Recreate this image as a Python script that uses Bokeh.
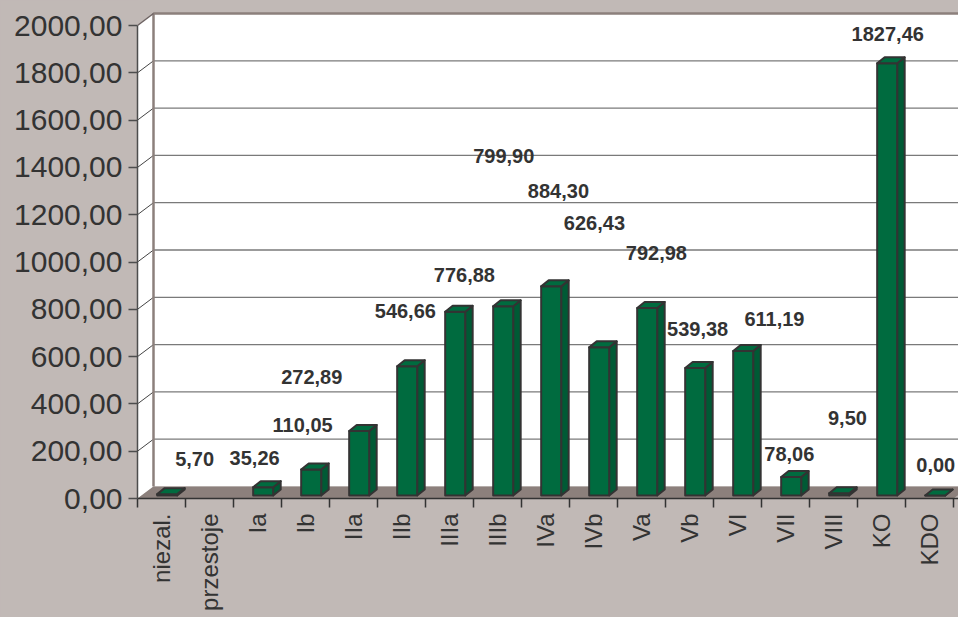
import math
import numpy as np
from bokeh.plotting import figure
from bokeh.models import Range1d, FixedTicker
from bokeh.embed import file_html
from bokeh.resources import INLINE
from bokeh.core.properties import value

# ---------------- data ----------------
CATEGORIES = ["niezal.", "przestoje", "Ia", "Ib", "IIa", "IIb", "IIIa", "IIIb",
              "IVa", "IVb", "Va", "Vb", "VI", "VII", "VIII", "KO", "KDO"]
VALUES = [5.70, None, 35.26, 110.05, 272.89, 546.66, 776.88, 799.90,
          884.30, 626.43, 792.98, 539.38, 611.19, 78.06, 9.50, 1827.46, 0.00]
Y_TICKS = [0, 200, 400, 600, 800, 1000, 1200, 1400, 1600, 1800, 2000]
Y_TICK_LABELS = ["0,00", "200,00", "400,00", "600,00", "800,00", "1000,00",
                 "1200,00", "1400,00", "1600,00", "1800,00", "2000,00"]
# where the value labels sit in the original (they are displaced from bars)
LABEL_X = [0.69, 1.94, 2.94, 3.13, 5.08, 6.31, 7.13, 8.27,
           9.02, 10.31, 11.17, 12.77, 13.08, 14.29, 15.13, 16.13]
LABEL_Y = [169, 173, 309, 512, 791, 943, 1450, 1302,
           1167, 1040, 715, 757, 190, 342, 1966, 140]

# ---------------- geometry / style ----------------
W, H = 958, 617
LEFT, BOTTOM = 137, 119
PX_PER_CAT = 48.0
PX_PER_VAL = 0.2365
FRAME_W = W - LEFT
FRAME_H = H - BOTTOM
DX = 16 / PX_PER_CAT          # wall depth (x)
DY = 12 / PX_PER_VAL          # wall depth (y)
BAR_W = 20 / PX_PER_CAT
BAR_L = -0.09                 # bar front-face left relative to category centre
BAR_BASE = 3 / PX_PER_VAL
BDX = 7.5 / PX_PER_CAT        # bar depth
BDY = 6 / PX_PER_VAL
XR = 18.5

BG = "#c1b9b6"
FLOOR = "#8c807c"
GREEN = "#006b3f"
GREEN_SIDE = "#005a35"
DARK = "#333333"

p = figure(width=W, height=H, output_backend="svg", toolbar_location=None,
           x_range=Range1d(-0.5, -0.5 + FRAME_W / PX_PER_CAT),
           y_range=Range1d(0, FRAME_H / PX_PER_VAL),
           min_border_left=LEFT, min_border_right=0, min_border_top=0,
           min_border_bottom=BOTTOM)
p.background_fill_color = BG
p.border_fill_color = BG
p.outline_line_color = None
p.xgrid.visible = False
p.ygrid.visible = False

n = len(CATEGORIES)
x0 = -0.5
xend = n - 0.5

# side wall and back wall
p.patch([x0, x0, x0 + DX, x0 + DX], [0, 2000, 2000 + DY, DY],
        fill_color="white", line_color=None)
p.quad(left=[x0 + DX], right=[XR], bottom=[DY], top=[2000 + DY],
       fill_color="white", line_color=None)

# gridlines
gl_x, gl_y, sl_x, sl_y = [], [], [], []
for t in Y_TICKS[1:-1]:
    gl_x.append([x0 + DX, XR]); gl_y.append([t + DY, t + DY])
    sl_x.append([x0, x0 + DX]); sl_y.append([t, t + DY])
p.multi_line(gl_x, gl_y, line_color="#7a7a7a", line_width=1.3)
p.multi_line(sl_x, sl_y, line_color="#444444", line_width=1)

# wall borders
p.line([x0 + DX, x0 + DX, XR], [DY, 2000 + DY, 2000 + DY], line_color=FLOOR, line_width=2.5)
p.line([x0, x0 + DX], [2000, 2000 + DY], line_color="#6e6464", line_width=1.5)

# floor
p.patch([x0, xend, xend + DX, x0 + DX], [0, 0, DY, DY], fill_color=FLOOR, line_color=None)

# bars
fl, fr, fb, ft = [], [], [], []
side_x, side_y, top_x, top_y = [], [], [], []
for i, v in enumerate(VALUES):
    if v is None:
        continue
    l = i + BAR_L
    r = l + BAR_W
    b = BAR_BASE
    t = BAR_BASE + v
    fl.append(l); fr.append(r); fb.append(b); ft.append(t)
    side_x.append([r, r, r + BDX, r + BDX]); side_y.append([b, t, t + BDY, b + BDY])
    top_x.append([l, r, r + BDX, l + BDX]); top_y.append([t, t, t + BDY, t + BDY])

p.patches(side_x, side_y, fill_color=GREEN_SIDE, line_color=DARK, line_width=2, line_join="round")
p.quad(left=fl, right=fr, bottom=fb, top=ft, fill_color=GREEN, line_color=DARK,
       line_width=2, line_join="round")
p.patches(top_x, top_y, fill_color=GREEN, line_color=DARK, line_width=2, line_join="round")

# value labels
labels = [f"{v:.2f}".replace(".", ",") for v in VALUES if v is not None]
p.text(x=LABEL_X, y=LABEL_Y, text=labels, text_font=value("Liberation Sans"),
       text_font_style="bold", text_font_size="20px", text_color=DARK,
       text_align="center", text_baseline="middle")

# y axis
ya = p.yaxis[0]
ya.ticker = FixedTicker(ticks=Y_TICKS, minor_ticks=[])
ya.major_label_overrides = {t: s for t, s in zip(Y_TICKS, Y_TICK_LABELS)}
ya.bounds = (0, 2000)
ya.axis_line_color = "#4d4d4d"
ya.axis_line_width = 1.5
ya.major_tick_line_color = "#4d4d4d"
ya.major_tick_line_width = 1.5
ya.major_tick_in = 0
ya.major_tick_out = 9
ya.minor_tick_line_color = None
ya.major_label_standoff = 6
ya.major_label_text_font = "Liberation Sans"
ya.major_label_text_font_size = "30px"
ya.major_label_text_color = DARK

# x axis
xa = p.xaxis[0]
centers = list(range(n))
bounds_t = [i - 0.5 for i in range(n + 1)]
xa.ticker = FixedTicker(ticks=centers, minor_ticks=bounds_t)
xa.major_label_overrides = {i: c for i, c in enumerate(CATEGORIES)}
xa.bounds = (x0, XR)
xa.axis_line_color = DARK
xa.axis_line_width = 1.5
xa.major_tick_line_color = None
xa.major_tick_in = 0
xa.major_tick_out = 0
xa.minor_tick_line_color = DARK
xa.minor_tick_line_width = 1.5
xa.minor_tick_in = 0
xa.minor_tick_out = 9
xa.major_label_orientation = math.pi / 2
xa.major_label_standoff = 6
xa.major_label_text_font = "Liberation Sans"
xa.major_label_text_font_size = "24px"
xa.major_label_text_color = DARK

html = file_html(p, INLINE)
html = html.replace("</head>", "<style>body{background:" + BG + ";}</style></head>", 1)
open("out.html", "w").write(html)
